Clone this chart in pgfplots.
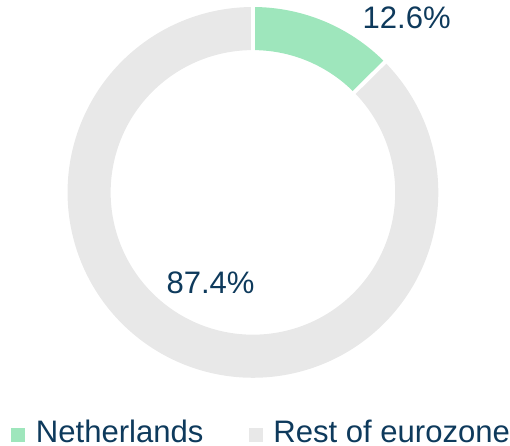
\documentclass[border=0pt]{standalone}
\usepackage{fontspec}
\setmainfont{Liberation Sans}
\usepackage{pgfplots}
\usepackage{pgfplotstable}
\pgfplotsset{compat=1.18}
\definecolor{nlgreen}{HTML}{9EE6BC}
\definecolor{restgray}{HTML}{E8E8E8}
\definecolor{txt}{HTML}{0E3A5C}

% share of eurozone, percent
\pgfplotstableread{
region share
Netherlands 12.6
Rest 87.4
}\shares

\begin{document}
\pgfplotstablegetelem{0}{share}\of\shares \let\shareNL\pgfplotsretval
\pgfplotstablegetelem{1}{share}\of\shares \let\shareRest\pgfplotsretval
\pgfmathsetmacro\angB{90-3.6*\shareNL}
\pgfmathsetmacro\angC{\angB-3.6*\shareRest}
\begin{tikzpicture}
\begin{axis}[
    width=255pt, height=224.5pt, scale only axis,
    xmin=0, xmax=510, ymin=0, ymax=449,
    hide axis, clip=false,
    legend style={at={(axis cs:12.7,3)}, anchor=south west,
        draw=none, fill=none, inner sep=0pt, outer sep=0pt,
        legend columns=2, font=\fontsize{15.5}{18}\selectfont, text=txt,
        nodes={inner sep=0pt},
        column sep=5.5pt,
        /tikz/every even column/.append style={column sep=22.5pt}},
    legend cell align=left,
]
% ring segments, mid radius 163.5, thickness 43
\addplot[nlgreen, line width=21.5pt, domain=\angB:90, samples=80, forget plot]
    ({254+163.5*cos(x)},{256+163.5*sin(x)});
\addplot[restgray, line width=21.5pt, domain=\angC:\angB, samples=360, forget plot]
    ({254+163.5*cos(x)},{256+163.5*sin(x)});
% white separators
\addplot[white, line width=2pt, domain=138:190, samples=2, forget plot]
    ({254+x*cos(90)},{256+x*sin(90)});
\addplot[white, line width=2pt, domain=138:190, samples=2, forget plot]
    ({254+x*cos(\angB)},{256+x*sin(\angB)});

\node[text=txt, font=\fontsize{15.5}{18}\selectfont, inner sep=0pt] at (axis cs:407.5,430.7) {12.6\%};
\node[text=txt, font=\fontsize{15.5}{18}\selectfont, inner sep=0pt] at (axis cs:211.7,166) {87.4\%};

\addlegendimage{legend image code/.code={\fill[nlgreen] (0pt,-4.25pt) rectangle (6.5pt,2.25pt);}}
\addlegendentry{Netherlands}
\addlegendimage{legend image code/.code={\fill[restgray] (0pt,-4.25pt) rectangle (6.5pt,2.25pt);}}
\addlegendentry{Rest of eurozone}
\end{axis}
\end{tikzpicture}
\end{document}
